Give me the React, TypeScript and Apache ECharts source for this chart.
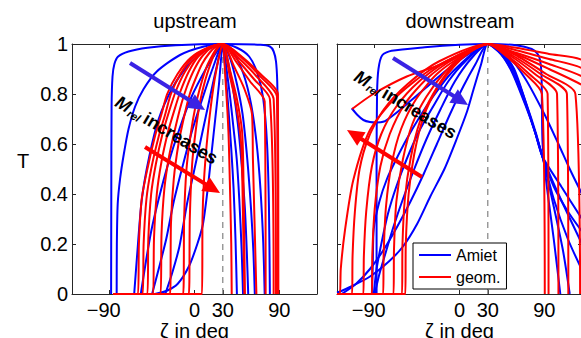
import React, { useEffect, useRef } from "react";
import * as echarts from "echarts";

const FONT = '"Liberation Sans", Arial, Helvetica, sans-serif';
const BLUE = "#0000ff";
const RED = "#ff0000";

const panelTitles = ["upstream", "downstream"];
const xTicks = [-90, 0, 30, 90];
const legendNames = ["Amiet", "geom."];

// ---------- upstream, Amiet (blue) ----------
const upB1 = [[-88.5,0],[-88.3,0.4],[-88,0.75],[-87,0.87],[-85,0.92],[-81,0.95],[-70,0.97],[-50,0.985],[-20,0.995],[30,1],[70,0.997],[80,0.99],[84,0.97],[86.5,0.93],[87.8,0.85],[88.3,0.7],[88.5,0.4],[88.5,0]];
const upB2 = [[-82.6,0],[-82.4,0.2],[-81.5,0.36],[-79,0.46],[-75,0.56],[-70,0.66],[-63,0.75],[-54,0.82],[-40,0.89],[-15.4,0.956],[10,0.99],[30,1],[45,0.985],[58,0.95],[67,0.88],[73,0.78],[77,0.6],[79,0.35],[80,0]];
const upB3 = [[-64,0],[-61,0.15],[-56,0.376],[-48,0.55],[-38,0.7],[-24,0.82],[-8,0.91],[10,0.97],[30,1],[42,0.96],[52,0.88],[60,0.76],[66,0.6],[70,0.42],[73,0.2],[74.5,0]];
const upB4 = [[-57,0],[-52,0.12],[-46,0.25],[-38,0.38],[-28,0.52],[-16,0.66],[-3,0.79],[12,0.9],[22,0.96],[30,1],[38,0.94],[45,0.84],[51,0.72],[56,0.54],[60,0.34],[62.5,0.17],[64,0]];
const upB5 = [[-45,0],[-38,0.1],[-30,0.22],[-22,0.37],[-12,0.52],[-2,0.66],[10,0.8],[20,0.91],[30,1],[36,0.92],[41,0.82],[46,0.68],[50,0.52],[53.5,0.34],[55.5,0.17],[57,0]];
const upB6 = [[-31,0],[-24,0.08],[-16,0.19],[-8,0.36],[0,0.5],[8,0.64],[16,0.78],[23,0.9],[30,1],[34,0.9],[38,0.78],[41.5,0.66],[44.8,0.54],[47.5,0.38],[50,0.18],[51.5,0]];
const upB7 = [[-42,0],[-30,0.012],[-18,0.04],[-6,0.11],[3,0.2],[9,0.28],[14,0.42],[18,0.56],[22,0.7],[26,0.84],[30,1],[33,0.88],[36,0.74],[39,0.58],[41.5,0.42],[43.5,0.22],[45,0]];

// ---------- upstream, geom. (red) ----------
const upR1 = [[-86,0],[-60,0],[-59,0.2],[-56,0.38],[-50,0.5],[-42,0.63],[-35,0.72],[-29,0.8],[-18,0.88],[-4,0.945],[14,0.985],[30,1],[50,0.95],[70,0.88],[88.5,0.8],[89,0]];
const upR2 = [[-86,0],[-55,0],[-54,0.2],[-51,0.38],[-46,0.5],[-38,0.63],[-31,0.72],[-25,0.8],[-15,0.88],[-2,0.945],[15,0.985],[30,1],[50,0.945],[70,0.87],[87.5,0.79],[88.5,0]];
const upR3 = [[-86,0],[-50,0],[-49,0.22],[-46,0.4],[-41,0.52],[-34,0.64],[-27,0.73],[-20,0.81],[-10,0.89],[2,0.95],[16,0.987],[30,1],[48,0.94],[66,0.87],[84,0.78],[86.5,0]];
const upR4 = [[-86,0],[-44,0],[-43,0.22],[-40,0.4],[-35,0.53],[-28,0.65],[-21,0.74],[-15,0.81],[-6,0.89],[4,0.95],[17,0.988],[30,1],[46,0.935],[63,0.86],[80,0.78],[84,0]];
const upR5 = [[-86,0],[-36,0],[-35,0.24],[-32,0.42],[-27,0.55],[-20,0.67],[-14,0.76],[-8,0.83],[0,0.9],[9,0.955],[20,0.99],[30,1],[44,0.93],[59,0.85],[74.5,0.77],[75.5,0]];
const upR6 = [[-86,0],[-26,0],[-25,0.28],[-22,0.46],[-17,0.6],[-11,0.71],[-5,0.8],[1,0.86],[8,0.92],[16,0.965],[23,0.99],[30,1],[42,0.91],[53,0.82],[61,0.72],[62,0.54],[65.7,0]];
const upR7 = [[-86,0],[-12,0],[-11,0.3],[-8.5,0.5],[-4,0.64],[1,0.75],[7,0.84],[13,0.91],[19,0.955],[25,0.99],[30,1],[38,0.89],[45,0.78],[50.5,0.65],[52,0.45],[53.5,0]];
const upR8 = [[-86,0],[-6,0],[-5,0.3],[-2.5,0.52],[1.5,0.66],[6,0.77],[11,0.85],[16,0.91],[21,0.96],[26,0.99],[30,1],[37,0.88],[44,0.76],[49.5,0.6],[51.5,0.3],[53,0]];
const upR9 = [[-86,0],[8,0],[8.5,0.3],[10,0.45],[13,0.6],[17,0.74],[21,0.85],[25,0.93],[28,0.98],[30,1],[33,0.85],[36,0.65],[37.5,0.45],[39,0.2],[39.5,0]];

// ---------- downstream, Amiet (blue) ----------
const dnB1 = [[-88,0],[-88,0.5],[-87.5,0.8],[-86,0.9],[-82,0.955],[-72,0.973],[-37,0.987],[0,0.997],[30,1],[60,0.995],[76.6,0.98],[83,0.96],[85.5,0.936],[87,0.88],[87.5,0.75],[88.2,0.6],[92,0.45],[100,0.22],[107,0]];
const dnB2 = [[-114.4,0.743],[-108,0.715],[-102,0.696],[-95,0.688],[-88,0.686],[-80,0.69],[-73.8,0.705],[-62,0.74],[-38.4,0.816],[-13.6,0.896],[11.1,0.963],[30,1],[45,0.97],[58,0.9],[70,0.77],[80,0.65],[88,0.55],[100,0.35],[110,0.17],[117,0]];
const dnB3 = [[-130,0.005],[-115,0.03],[-95,0.07],[-75,0.13],[-60,0.19],[-45,0.28],[-31,0.39],[-16,0.5],[-3,0.62],[8,0.73],[15,0.82],[23,0.92],[30,1],[44,0.96],[56,0.89],[70,0.76],[80,0.65],[88,0.55],[100,0.38],[115,0.22],[130,0.096]];
const dnB4 = [[-125,0],[-110,0.04],[-95,0.1],[-80,0.18],[-66,0.27],[-52,0.37],[-38,0.48],[-24,0.6],[-10,0.72],[4,0.83],[17,0.92],[30,1],[44,0.96],[56,0.885],[70,0.755],[80,0.65],[88,0.55],[105,0.4],[130,0.2]];
const dnB5 = [[-93,0],[-92,0.12],[-91,0.26],[-85,0.37],[-77,0.46],[-67,0.54],[-56,0.62],[-42,0.71],[-28,0.79],[-12,0.87],[4,0.93],[18,0.975],[30,1],[45,0.965],[57,0.9],[70,0.765],[80,0.65],[88,0.55],[108,0.43],[130,0.3]];
const dnB6 = [[-91,0],[-88,0.1],[-83,0.2],[-76,0.32],[-67,0.43],[-56,0.54],[-43,0.65],[-28,0.75],[-12,0.85],[6,0.93],[30,1],[50,0.96],[70,0.86],[90,0.72],[105,0.6],[117,0.5],[130,0.4]];
const dnB7 = [[-90,0],[-85,0.08],[-78,0.17],[-70,0.27],[-60,0.38],[-48,0.5],[-35,0.62],[-20,0.74],[-5,0.85],[12,0.94],[30,1],[45,0.962],[58,0.89],[71,0.76],[81,0.645],[88,0.55],[100,0.43],[115,0.33],[130,0.25]];

// ---------- downstream, geom. (red) ----------
const dnR1 = [[-130,0],[-127,0],[-126,0.1],[-121.5,0.256],[-112.7,0.456],[-95,0.656],[-66.7,0.79],[-31.3,0.896],[4,0.963],[30,1],[60,0.985],[95,0.96],[130,0.936],[170,0.8]];
const dnR2 = [[-130,0],[-114,0],[-113.5,0.15],[-111,0.33],[-106,0.5],[-96,0.63],[-80,0.74],[-55,0.84],[-22,0.93],[30,1],[60,0.975],[95,0.94],[130,0.903],[160,0.8]];
const dnR3 = [[-130,0],[-102,0],[-101.5,0.15],[-99,0.33],[-93,0.51],[-83,0.64],[-67,0.75],[-43,0.85],[-12,0.935],[30,1],[60,0.965],[95,0.92],[130,0.87],[150,0.8]];
const dnR4 = [[-130,0],[-93,0],[-92.5,0.16],[-90,0.34],[-84,0.51],[-74,0.64],[-58,0.76],[-35,0.86],[-6,0.94],[30,1],[60,0.96],[95,0.9],[130,0.836],[140,0.8]];
const dnR5 = [[-130,0],[-81,0],[-80.5,0.16],[-78,0.35],[-72,0.52],[-62,0.66],[-46,0.78],[-24,0.88],[2,0.95],[30,1],[62,0.95],[92,0.88],[123,0.8],[128,0]];
const dnR6 = [[-130,0],[-70,0],[-69.5,0.18],[-67,0.37],[-60,0.54],[-50,0.68],[-35,0.79],[-15,0.89],[6,0.96],[30,1],[58,0.95],[86,0.88],[114,0.8],[115.5,0]];
const dnR7 = [[-130,0],[-61,0],[-60.5,0.2],[-58,0.38],[-52,0.54],[-42,0.69],[-28,0.8],[-10,0.9],[10,0.965],[30,1],[55,0.95],[80,0.88],[103.5,0.8],[105,0]];
const dnR8 = [[-130,0],[-57.5,0],[-57,0.2],[-54,0.4],[-48,0.56],[-38,0.71],[-24,0.82],[-6,0.91],[12,0.97],[30,1],[52,0.95],[74,0.88],[93.5,0.8],[94.5,0]];
const dnR9 = [[-114,0.74],[-91.5,0.8],[-56,0.87],[-21,0.916],[5,0.96],[30,1],[50,0.95],[70,0.88],[87.5,0.8],[90.5,0]];

const upBlue = [upB1, upB2, upB3, upB4, upB5, upB6, upB7];
const upRed = [upR1, upR2, upR3, upR4, upR5, upR6, upR7, upR8, upR9];
const dnBlue = [dnB1, dnB2, dnB3, dnB4, dnB5, dnB6, dnB7];
const dnRed = [dnR1, dnR2, dnR3, dnR4, dnR5, dnR6, dnR7, dnR8, dnR9];
const refLine = [[30, 0], [30, 1]];

function arrow(x1: number, y1: number, x2: number, y2: number, color: string) {
  const dx = x2 - x1, dy = y2 - y1;
  const L = Math.hypot(dx, dy);
  const ux = dx / L, uy = dy / L;
  const hl = 17, hw = 8;
  const bx = x2 - ux * hl, by = y2 - uy * hl;
  return [
    { type: "line", z: 100, shape: { x1, y1, x2: bx + ux * 2, y2: by + uy * 2 }, style: { stroke: color, lineWidth: 4 } },
    { type: "polygon", z: 100, shape: { points: [[x2, y2], [bx - uy * hw, by + ux * hw], [bx + uy * hw, by - ux * hw]] }, style: { fill: color } },
  ];
}

function mlabel(x: number, y: number, rot: number) {
  return {
    type: "text",
    z: 101,
    x, y, rotation: rot,
    style: {
      text: "{m|M}{s|rel} {t|increases}",
      align: "center",
      verticalAlign: "middle",
      fill: "#000",
      rich: {
        m: { fontSize: 18, fontStyle: "italic", fontWeight: "bold", fontFamily: FONT, fill: "#000" },
        s: { fontSize: 11, fontStyle: "italic", fontWeight: "bold", fontFamily: FONT, fill: "#000", padding: [9, 0, 0, 1] },
        t: { fontSize: 18, fontWeight: "bold", fontFamily: FONT, fill: "#000" },
      },
    },
  };
}

export default function App() {
  const ref = useRef<HTMLDivElement>(null);
  useEffect(() => {
    if (!ref.current) return;
    const chart = echarts.init(ref.current, undefined, { renderer: "svg" });
    const AX = "#262626";
    const grids = [
      { left: 72, top: 44, width: 245, height: 250 },
      { left: 337, top: 44, width: 245, height: 250 },
    ];
    const xAxes: any[] = [];
    const yAxes: any[] = [];
    [0, 1].forEach((i) => {
      xAxes.push({
        gridIndex: i, type: "value", min: -130, max: 130, position: "bottom",
        axisLine: { show: true, onZero: false, lineStyle: { color: AX, width: 1 } },
        axisTick: { show: true, inside: true, length: 4, customValues: xTicks, lineStyle: { color: AX } },
        axisLabel: {
          show: true, customValues: xTicks, margin: 6, fontSize: 20, color: "#000", fontFamily: FONT,
          formatter: (v: number) => (v < 0 ? "{n|\u2212" + Math.abs(v) + "}" : String(v)),
          rich: { n: { fontSize: 20, color: "#000", fontFamily: FONT, padding: [0, 12, 0, 0] } },
        },
        splitLine: { show: false },
        name: "\u03b6 in deg", nameLocation: "middle", nameGap: 26.5, nameMoveOverlap: false,
        nameTextStyle: { fontSize: 20, color: "#000", fontFamily: FONT },
      });
      xAxes.push({
        gridIndex: i, type: "value", min: -130, max: 130, position: "top",
        axisLine: { show: true, onZero: false, lineStyle: { color: AX, width: 1 } },
        axisTick: { show: true, inside: true, length: 4, customValues: xTicks, lineStyle: { color: AX } },
        axisLabel: { show: false },
        splitLine: { show: false },
      });
      yAxes.push({
        gridIndex: i, type: "value", min: 0, max: 1, interval: 0.2, position: "left",
        axisLine: { show: true, onZero: false, lineStyle: { color: AX, width: 1 } },
        axisTick: { show: true, inside: true, length: 4, lineStyle: { color: AX } },
        axisLabel: { show: i === 0, margin: 4, fontSize: 20, color: "#000", fontFamily: FONT },
        splitLine: { show: false },
      });
      yAxes.push({
        gridIndex: i, type: "value", min: 0, max: 1, interval: 0.2, position: "right",
        axisLine: { show: true, onZero: false, lineStyle: { color: AX, width: 1 } },
        axisTick: { show: true, inside: true, length: 4, lineStyle: { color: AX } },
        axisLabel: { show: false },
        splitLine: { show: false },
      });
    });

    const mk = (data: number[][], color: string, name: string, panel: number) => ({
      type: "line", name, data, xAxisIndex: panel * 2, yAxisIndex: panel * 2,
      symbol: "none", smooth: 0.25, clip: true, silent: true,
      lineStyle: { color, width: 2 }, itemStyle: { color }, z: 3,
    });
    const series: any[] = [];
    [0, 1].forEach((p) => {
      series.push({
        type: "line", name: "ref" + p, data: refLine, xAxisIndex: p * 2, yAxisIndex: p * 2,
        symbol: "none", silent: true, z: 2,
        lineStyle: { color: "#8c8c8c", width: 1.3, type: [6, 5] },
      });
    });
    upBlue.forEach((d) => series.push(mk(d, BLUE, legendNames[0], 0)));
    dnBlue.forEach((d) => series.push(mk(d, BLUE, legendNames[0], 1)));
    upRed.forEach((d) => series.push(mk(d, RED, legendNames[1], 0)));
    dnRed.forEach((d) => series.push(mk(d, RED, legendNames[1], 1)));

    const graphic: any[] = [
      { type: "text", x: 195, y: 21, style: { text: panelTitles[0], fontSize: 20, fontFamily: FONT, fill: "#000", align: "center", verticalAlign: "middle" } },
      { type: "text", x: 460, y: 21, style: { text: panelTitles[1], fontSize: 20, fontFamily: FONT, fill: "#000", align: "center", verticalAlign: "middle" } },
      { type: "text", x: 23, y: 161, style: { text: "T", fontSize: 20, fontFamily: FONT, fill: "#000", align: "center", verticalAlign: "middle" } },
      ...arrow(130, 63, 205, 110, "#3a22e4"),
      ...arrow(145, 147, 220, 193, RED),
      ...arrow(393, 58, 468, 105, "#3a22e4"),
      ...arrow(422, 177, 347, 130, RED),
      mlabel(166.5, 130, -0.54),
      mlabel(405.5, 104.5, -0.54),
    ];

    chart.setOption({
      animation: false,
      backgroundColor: "#fff",
      grid: grids.map((g) => ({ ...g, show: false, containLabel: false, outerBoundsMode: "none" })),
      xAxis: xAxes,
      yAxis: yAxes,
      legend: {
        data: legendNames.map((n) => ({ name: n, icon: "rect" })), left: 413, top: 243, orient: "vertical",
        itemWidth: 32, itemHeight: 2, itemGap: 4, padding: [3, 6, 3, 6],
        borderColor: "#000", borderWidth: 1, backgroundColor: "#fff",
        selectedMode: false, z: 50,
        textStyle: { fontSize: 16, color: "#000", fontFamily: FONT, lineHeight: 18 },
      },
      series,
      graphic,
    });
    return () => chart.dispose();
  }, []);
  return <div ref={ref} style={{ position: "fixed", left: 0, top: 0, width: 581, height: 338 }} />;
}
